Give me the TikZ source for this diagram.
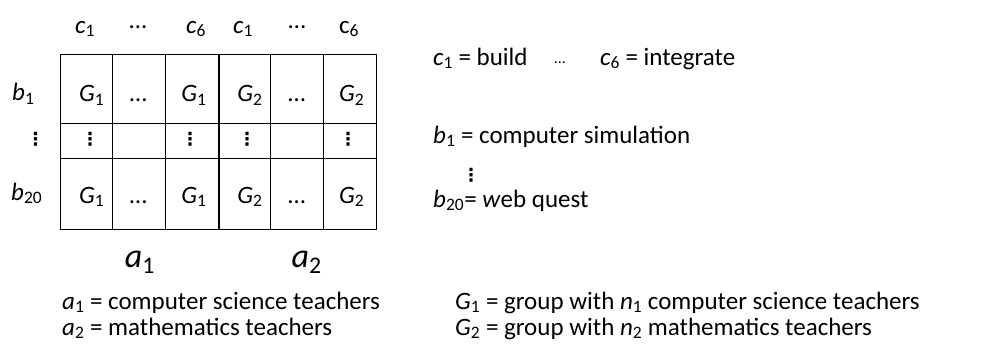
\documentclass[tikz,border=0pt]{standalone}
\usepackage{fontspec}
\setmainfont{Carlito}
\newfontfamily\symfont{DejaVu Sans}
\newcommand\vv[2]{\textit{#1}\textsubscript{#2}}
\begin{document}
\begin{tikzpicture}[x=1pt,y=-1pt,
  lbl/.style={anchor=base, inner sep=0pt, font=\fontsize{25}{29}\selectfont},
  txt/.style={anchor=base west, inner sep=0pt, font=\fontsize{25}{29}\selectfont},
  big/.style={anchor=base, inner sep=0pt, font=\fontsize{34}{40}\selectfont},
  vd/.style={anchor=center, inner sep=0pt, font=\symfont\bfseries\fontsize{18}{20}\selectfont},
  gridline/.style={line width=1.3pt}]
\useasboundingbox (0,0) rectangle (984,349);
% grid
\draw[gridline] (60.3,54.3) rectangle (376.7,229.3);
\foreach \x in {112.7,165.7,219,270.3,323.3} \draw[gridline] (\x,54.3) -- (\x,229.3);
\foreach \y in {123.3,158.3} \draw[gridline] (60.3,\y) -- (376.7,\y);
% header
\node[lbl] (h1) at (85,33) {\vv{c}{1}};
\node[lbl] (h2) at (138,28) {…};
\node[lbl] (h3) at (196,33) {\vv{c}{6}};
\node[lbl] (h4) at (243,33) {\vv{c}{1}};
\node[lbl] (h5) at (297,28) {…};
\node[lbl] (h6) at (349,33) {c\textsubscript{6}};
% row labels
\node[lbl] (r1) at (23.3,100.7) {\vv{b}{1}};
\node[vd] (r2) at (35.5,139.5) {⋮};
\node[lbl] (r3) at (26.7,200) {\vv{b}{20}};
% row 1
\node[lbl] (a11) at (91.7,101.7) {\vv{G}{1}};
\node[lbl] (a12) at (138.3,101.7) {…};
\node[lbl] (a13) at (194,101.7) {\vv{G}{1}};
\node[lbl] (a14) at (250,101.7) {\vv{G}{2}};
\node[lbl] (a15) at (296.7,101.7) {…};
\node[lbl] (a16) at (351.7,101.7) {\vv{G}{2}};
% row 2
\node[vd] (a21) at (90,139.5) {⋮};
\node[vd] (a23) at (190,139.5) {⋮};
\node[vd] (a24) at (247,139.5) {⋮};
\node[vd] (a26) at (348,139.5) {⋮};
% row 3
\node[lbl] (a31) at (91.7,203) {\vv{G}{1}};
\node[lbl] (a32) at (138.3,203) {…};
\node[lbl] (a33) at (194,203) {\vv{G}{1}};
\node[lbl] (a34) at (250,203) {\vv{G}{2}};
\node[lbl] (a35) at (296.7,203) {…};
\node[lbl] (a36) at (351.7,203) {\vv{G}{2}};
% a labels
\node[big] (A1) at (140,267) {\vv{a}{1}};
\node[big] (A2) at (306.7,267) {\vv{a}{2}};
% legends
\node[txt] (Lc1) at (433,65) {\vv{c}{1} = build};
\node[lbl, font=\fontsize{16}{20}\selectfont] (Ldots) at (560,63) {…};
\node[txt] (Lc6) at (600,65) {\vv{c}{6} = integrate};
\node[txt] (Lb1) at (433,143) {\vv{b}{1} = computer simulation};
\node[vd] (Lvd) at (471,175) {⋮};
\node[txt] (Lb20) at (433,207) {\vv{b}{20}= \textit{w}eb quest};
\node[txt] (La1) at (62,309) {\vv{a}{1} = computer science teachers};
\node[txt] (La2) at (62,335) {\vv{a}{2} = mathematics teachers};
\node[txt] (LG1) at (455,309) {\vv{G}{1} = group with \vv{n}{1} computer science teachers};
\node[txt] (LG2) at (455,335) {\vv{G}{2} = group with \vv{n}{2} mathematics teachers};
\end{tikzpicture}
\end{document}
